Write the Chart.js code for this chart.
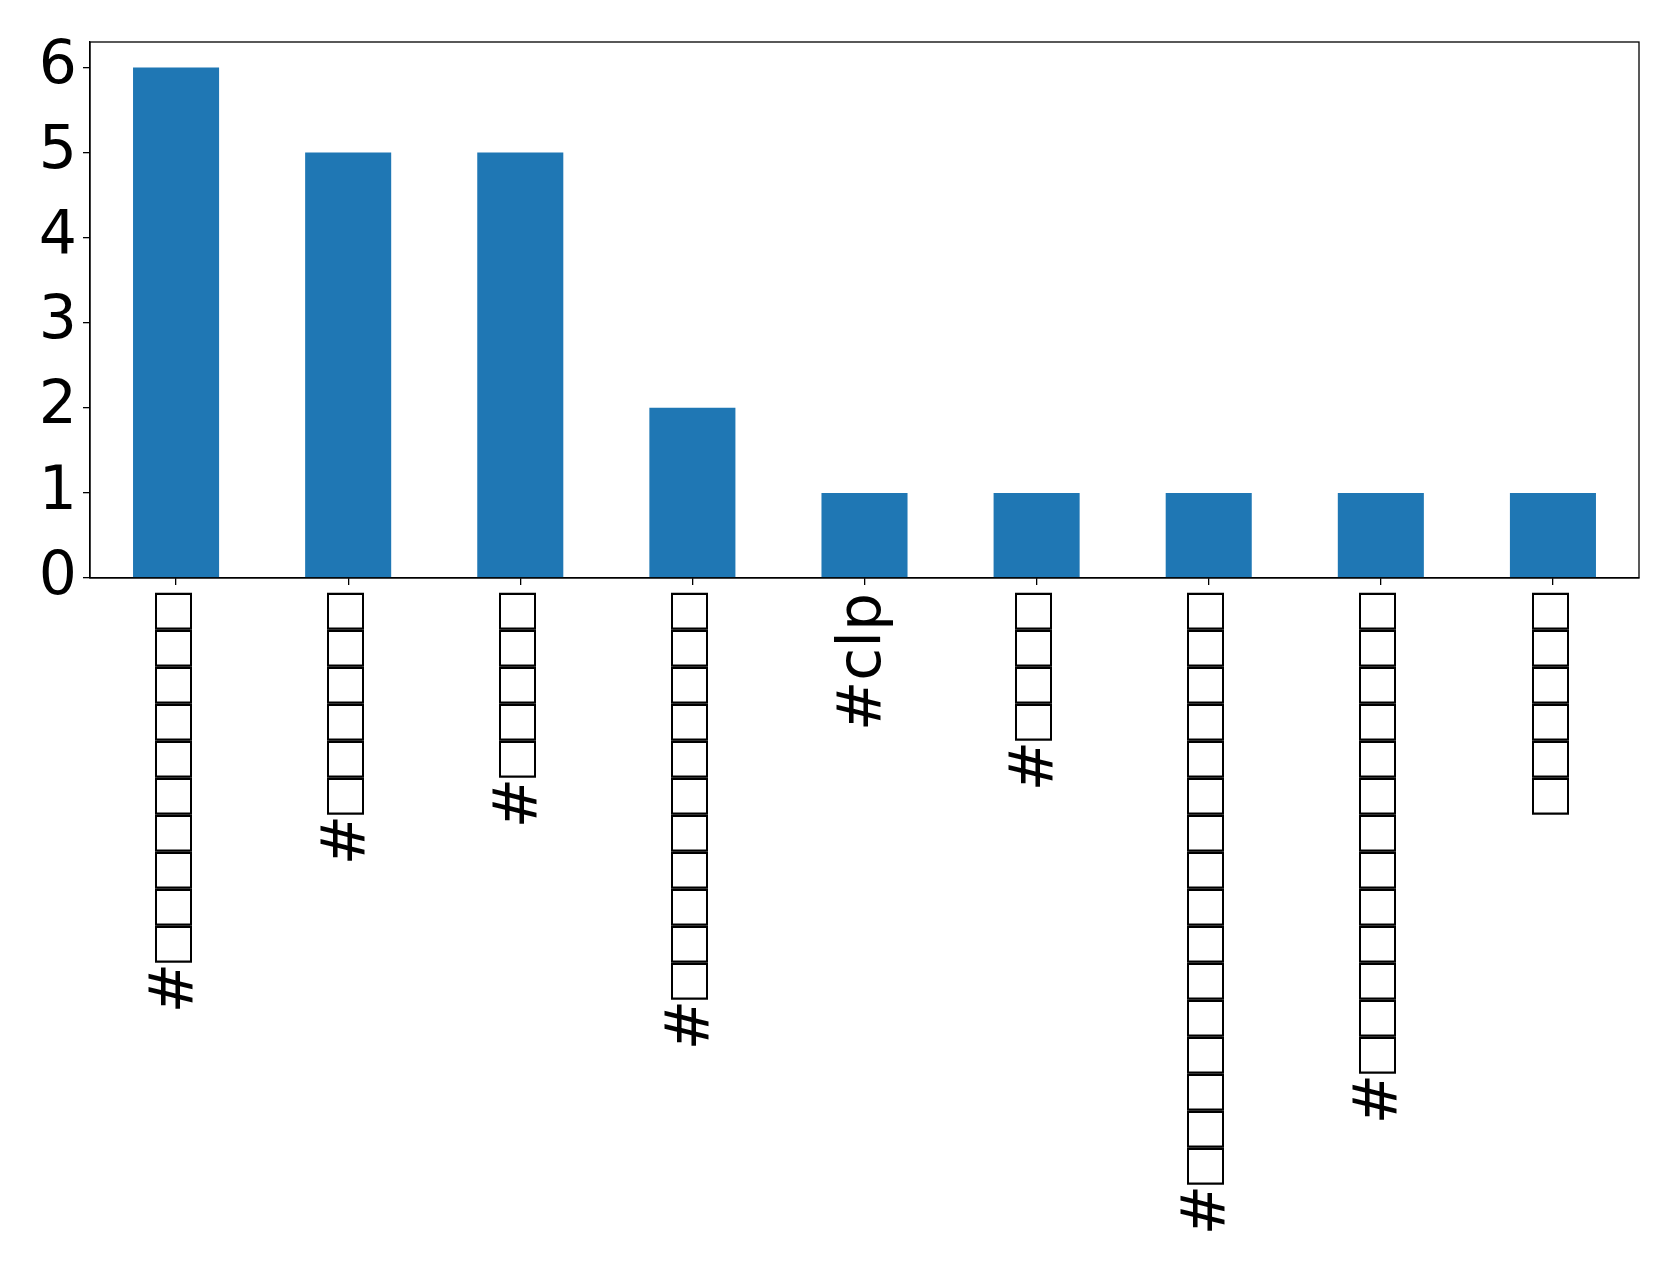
<!DOCTYPE html>
<html>
<head>
<meta charset="utf-8">
<script src="https://cdn.jsdelivr.net/npm/chart.js@4"></script>
<style>
  /* 只让方框字符用较窄的 Liberation Sans 字形 */
  @font-face {
    font-family: 'BoxGlyph';
    src: local('Liberation Sans'), local('LiberationSans-Regular');
    unicode-range: U+25A1;
    size-adjust: 104%;
  }
  html, body { margin: 0; padding: 0; background: #fff; }
  #wrap { width: 1679px; height: 1281px; }
</style>
</head>
<body>
<div id="wrap"><canvas id="chart"></canvas></div>
<script>
// 标签里的字符在原图中显示为方框（字体缺字），这里用 □ 表示
const categories = [
  '#□□□□□□□□□□',
  '#□□□□□□',
  '#□□□□□',
  '#□□□□□□□□□□□',
  '#clp',
  '#□□□□',
  '#□□□□□□□□□□□□□□□□',
  '#□□□□□□□□□□□□□',
  '□□□□□□'
];
const counts = [6, 5, 5, 2, 1, 1, 1, 1, 1];
const yTicks = [0, 1, 2, 3, 4, 5, 6];

const FONT = { family: 'BoxGlyph, "DejaVu Sans", sans-serif', size: 60 };

// 画出上、右边框
const frame = {
  id: 'frame',
  afterDraw(chart) {
    const { ctx, chartArea: a } = chart;
    ctx.save();
    ctx.strokeStyle = '#000';
    ctx.lineWidth = 1.3;
    ctx.strokeRect(a.left, a.top, a.right - a.left, a.bottom - a.top);
    ctx.restore();
  }
};

function draw() {
  new Chart(document.getElementById('chart'), {
    type: 'bar',
    data: {
      labels: categories,
      datasets: [{
        data: counts,
        backgroundColor: '#1f77b4',
        barPercentage: 0.5,
        categoryPercentage: 1
      }]
    },
    options: {
      responsive: true,
      maintainAspectRatio: false,
      animation: false,
      devicePixelRatio: 1,
      layout: { padding: { top: 40, right: 40, left: 0, bottom: 0 } },
      plugins: { legend: { display: false }, tooltip: { enabled: false } },
      scales: {
        x: {
          offset: true,
          grid: { display: true, offset: false, drawOnChartArea: false, tickLength: 7, color: '#000', lineWidth: 1.3 },
          border: { color: '#000', width: 1.3 },
          ticks: {
            autoSkip: false,
            minRotation: 90,
            maxRotation: 90,
            padding: 8,
            color: '#000',
            font: FONT
          },
          afterFit(scale) { scale.height = 703; }
        },
        y: {
          min: 0,
          max: 6.3,
          grid: { display: true, drawOnChartArea: false, tickLength: 7, color: '#000', lineWidth: 1.3 },
          border: { color: '#000', width: 1.3 },
          ticks: { stepSize: 1, padding: 6, color: '#000', font: FONT },
          afterBuildTicks(scale) {
            scale.ticks = yTicks.map(v => ({ value: v }));
          },
          afterFit(scale) { scale.width = 90; }
        }
      }
    },
    plugins: [frame]
  });
}

document.fonts.load('60px BoxGlyph', '□').then(draw, draw);
</script>
</body>
</html>
